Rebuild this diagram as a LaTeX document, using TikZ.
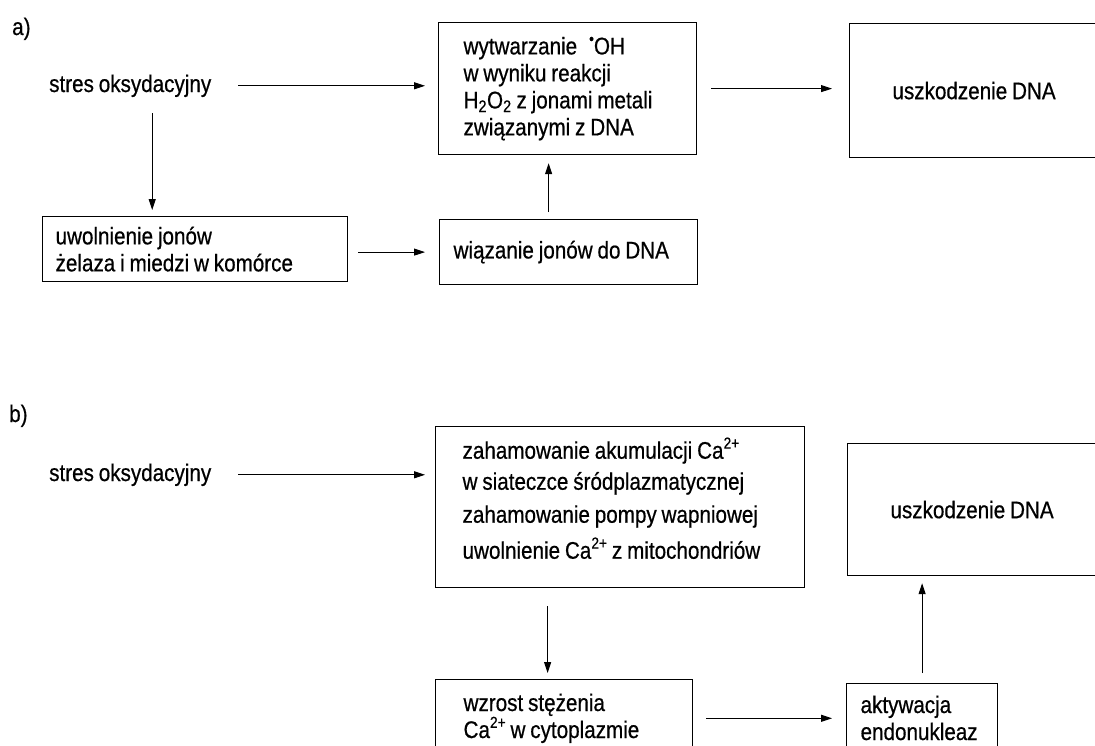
\documentclass[tikz,border=0pt]{standalone}
\usepackage{fontspec}
\setmainfont{Liberation Sans}[FakeStretch=0.86, WordSpace=0.85, FakeBold=0.6]
\usetikzlibrary{positioning, arrows.meta}
\newcommand\sups[1]{\raisebox{0.42em}{\fontsize{16}{16}\selectfont #1}}

\begin{document}
\begin{tikzpicture}[x=1pt, y=-1pt, font=\fontsize{24}{27}\selectfont,
  box/.style={draw, line width=1.2pt, anchor=north west, align=flush left, inner ysep=0pt},
  txt/.style={anchor=base west, inner sep=0pt},
  arr/.style={-{Triangle[length=11pt, width=7pt]}, line width=1pt}
]
  \useasboundingbox (0,0) rectangle (1095,745);
  \clip (0,0) rectangle (1095,745);

  % a)
  \node[txt] (laba) at (12,35) {a)};
  \node[txt] (stresa) at (49,92) {stres oksydacyjny};
  \node[box, inner xsep=25pt, text width=208pt, minimum height=132pt] (wytw) at (438,22)
    {wytwarzanie\enspace\sups{\textbullet}OH\\ w wyniku reakcji\\ H\textsubscript{2}O\textsubscript{2} z jonami metali\\ związanymi z DNA};
  \node[box, align=center, minimum width=249pt, minimum height=134pt] (uszka) at (849,23) {uszkodzenie DNA};
  \node[box, inner xsep=13pt, text width=279pt, minimum height=65pt] (uwol) at (42,216)
    {uwolnienie jonów\\ żelaza i miedzi w komórce};
  \node[box, inner xsep=14pt, text width=230pt, minimum height=65pt] (wiaz) at (439,219) {wiązanie jonów do DNA};

  \draw[arr, shorten <=27pt, shorten >=13pt] (stresa) -- (stresa -| wytw.west);
  \draw[arr, shorten <=14pt, shorten >=17pt] (wytw.east) -- (wytw.east -| uszka.west);
  \draw[arr, shorten <=16pt, shorten >=6pt] ([xshift=22pt]stresa.south) -- ([xshift=22pt]stresa.south |- uwol.north);
  \draw[arr, shorten <=10pt, shorten >=14pt] (wiaz.west -| uwol.east) -- (wiaz.west);
  \draw[arr, shorten <=7pt, shorten >=8pt] ([xshift=-20pt]wiaz.north) -- ([xshift=-20pt]wiaz.north |- wytw.south);

  % b)
  \node[txt] (labb) at (9,422) {b)};
  \node[txt] (stresb) at (49,481) {stres oksydacyjny};
  \node[box, inner xsep=27pt, text width=315pt, minimum height=161pt] (hamow) at (435,426)
    {zahamowanie akumulacji Ca\sups{2+}\\[4pt] w siateczce śródplazmatycznej\\[6pt]
     zahamowanie pompy wapniowej\\[9pt] uwolnienie Ca\sups{2+} z mitochondriów\rule[-18pt]{0pt}{18pt}};
  \node[box, align=center, minimum width=249pt, minimum height=132pt] (uszkb) at (847,443) {uszkodzenie DNA};
  \node[box, inner xsep=28pt, inner ysep=14pt, text width=201pt] (wzrost) at (435,679)
    {wzrost stężenia\\ Ca\sups{2+} w cytoplazmie};
  \node[box, inner xsep=14pt, inner ysep=12pt, text width=123pt] (aktyw) at (846,683)
    {aktywacja\\ endonukleaz};

  \draw[arr, shorten <=27pt, shorten >=10pt] (stresb) -- (stresb -| hamow.west);
  \draw[arr, shorten <=18pt, shorten >=6pt] ([xshift=-72.5pt]hamow.south) -- ([xshift=-72.5pt]hamow.south |- wzrost.north);
  \draw[arr, shorten <=13pt, shorten >=14pt] (wzrost.east) -- (wzrost.east -| aktyw.west);
  \draw[arr, shorten <=10pt, shorten >=7pt] (aktyw.north) -- (aktyw.north |- uszkb.south);
\end{tikzpicture}
\end{document}
